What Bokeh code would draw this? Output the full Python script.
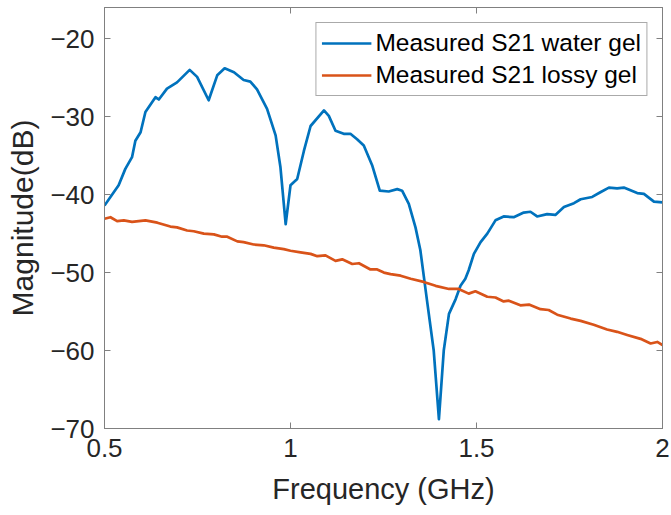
from bokeh.plotting import figure
from bokeh.models import LinearAxis, FixedTicker, Range1d, Legend, LegendItem
from bokeh.embed import file_html
from bokeh.resources import INLINE

# ---- data ----
freq_water = [0.500, 0.516, 0.538, 0.556, 0.574, 0.583, 0.597, 0.610, 0.637, 0.646,
              0.668, 0.695, 0.729, 0.749, 0.780, 0.803, 0.823, 0.848, 0.874, 0.892,
              0.910, 0.937, 0.960, 0.973, 0.987, 1.000, 1.018, 1.036, 1.054, 1.090,
              1.103, 1.121, 1.143, 1.161, 1.179, 1.197, 1.220, 1.240, 1.264, 1.287,
              1.300, 1.318, 1.336, 1.349, 1.367, 1.385, 1.399, 1.412, 1.426, 1.444,
              1.457, 1.470, 1.479, 1.493, 1.511, 1.529, 1.551, 1.573, 1.600, 1.627,
              1.645, 1.663, 1.690, 1.712, 1.735, 1.762, 1.780, 1.811, 1.833, 1.856,
              1.878, 1.896, 1.932, 1.950, 1.977, 2.000]
mag_water = [-41.4, -40.3, -38.8, -36.7, -35.2, -33.1, -32.0, -29.4, -27.5, -27.8,
             -26.4, -25.6, -24.0, -24.9, -27.9, -24.7, -23.8, -24.3, -25.3, -25.5,
             -26.5, -29.0, -32.4, -36.5, -43.8, -38.8, -38.0, -34.4, -31.2, -29.2,
             -29.9, -31.8, -32.2, -32.2, -32.9, -33.7, -36.3, -39.5, -39.6, -39.3,
             -39.5, -41.2, -44.2, -47.1, -53.6, -60.0, -68.8, -60.0, -55.3, -53.4,
             -51.7, -50.8, -49.7, -47.6, -46.1, -45.0, -43.3, -42.8, -42.9, -42.3,
             -42.2, -42.8, -42.5, -42.6, -41.6, -41.1, -40.6, -40.3, -39.7, -39.1,
             -39.2, -39.1, -39.8, -39.9, -40.9, -41.0]

freq_lossy = [0.500, 0.516, 0.534, 0.552, 0.574, 0.610, 0.642, 0.677, 0.695, 0.722,
              0.740, 0.767, 0.794, 0.816, 0.830, 0.857, 0.874, 0.901, 0.928, 0.955,
              0.982, 1.000, 1.027, 1.054, 1.072, 1.094, 1.121, 1.139, 1.166, 1.184,
              1.215, 1.233, 1.251, 1.269, 1.296, 1.323, 1.358, 1.390, 1.426, 1.452,
              1.479, 1.497, 1.529, 1.551, 1.573, 1.587, 1.618, 1.641, 1.672, 1.694,
              1.717, 1.753, 1.780, 1.815, 1.851, 1.878, 1.905, 1.941, 1.968, 1.986,
              2.000]
mag_lossy = [-43.1, -42.9, -43.4, -43.3, -43.5, -43.3, -43.6, -44.1, -44.2, -44.6,
             -44.7, -45.0, -45.1, -45.4, -45.4, -46.0, -46.1, -46.4, -46.5, -46.8,
             -47.0, -47.2, -47.4, -47.6, -47.9, -47.8, -48.5, -48.3, -48.9, -48.8,
             -49.6, -49.6, -50.0, -50.2, -50.4, -50.8, -51.2, -51.7, -52.1, -52.1,
             -52.7, -52.4, -53.1, -53.2, -53.7, -53.6, -54.2, -54.1, -54.7, -54.8,
             -55.4, -55.9, -56.2, -56.7, -57.3, -57.6, -58.0, -58.5, -59.1, -58.9,
             -59.3]

x_ticks = [0.5, 1.0, 1.5, 2.0]
x_tick_labels = ["0.5", "1", "1.5", "2"]
y_ticks = [-70, -60, -50, -40, -30, -20]
y_tick_labels = ["\u221270", "\u221260", "\u221250", "\u221240", "\u221230", "\u221220"]

label_water = "Measured S21 water gel"
label_lossy = "Measured S21 lossy gel"
x_title = "Frequency (GHz)"
y_title = "Magnitude(dB)"

# ---- style ----
FONT = "Liberation Sans"
AXC = "#808080"
TXT = "#262626"

p = figure(width=671, height=515, output_backend="svg", toolbar_location=None,
           x_range=Range1d(0.5, 2.0), y_range=Range1d(-70, -16),
           min_border_left=104, min_border_right=9, min_border_top=7,
           min_border_bottom=87, background_fill_color="white",
           border_fill_color="white")
p.grid.visible = False
p.outline_line_color = AXC
p.outline_line_width = 1

def style_axis(ax, ticks, labels, show_labels=True):
    ax.ticker = FixedTicker(ticks=ticks)
    ax.minor_tick_line_color = None
    ax.major_tick_in = 6
    ax.major_tick_out = 0
    ax.major_tick_line_color = AXC
    ax.axis_line_color = AXC
    if show_labels:
        ax.major_label_overrides = {t: l for t, l in zip(ticks, labels)}
        ax.major_label_text_font = FONT
        ax.major_label_text_color = TXT
        ax.major_label_text_font_size = "26px"
    else:
        ax.major_label_text_color = None
        ax.major_label_text_font_size = "0px"
        ax.major_label_standoff = 0

style_axis(p.xaxis[0], x_ticks, x_tick_labels)
style_axis(p.yaxis[0], y_ticks, y_tick_labels)
p.xaxis[0].major_label_standoff = 10
p.yaxis[0].major_label_standoff = 10

p.xaxis[0].axis_label = x_title
p.xaxis[0].axis_label_text_font = FONT
p.xaxis[0].axis_label_text_font_size = "29px"
p.xaxis[0].axis_label_text_font_style = "normal"
p.xaxis[0].axis_label_text_color = TXT
p.xaxis[0].axis_label_standoff = 13

p.yaxis[0].axis_label = y_title
p.yaxis[0].axis_label_text_font = FONT
p.yaxis[0].axis_label_text_font_size = "30px"
p.yaxis[0].axis_label_text_font_style = "normal"
p.yaxis[0].axis_label_text_color = TXT
p.yaxis[0].axis_label_standoff = 8

top_ax = LinearAxis()
style_axis(top_ax, x_ticks, x_tick_labels, show_labels=False)
p.add_layout(top_ax, "above")
right_ax = LinearAxis()
style_axis(right_ax, y_ticks, y_tick_labels, show_labels=False)
p.add_layout(right_ax, "right")

r1 = p.line(freq_water, mag_water, line_color="#0072BD", line_width=2.7,
            line_join="round")
r2 = p.line(freq_lossy, mag_lossy, line_color="#D95319", line_width=2.7,
            line_join="round")

legend = Legend(items=[LegendItem(label=label_water, renderers=[r1]),
                       LegendItem(label=label_lossy, renderers=[r2])],
                location="top_right", margin=15, padding=5, spacing=2,
                glyph_width=50, glyph_height=30, label_height=30,
                label_standoff=4, label_text_font=FONT,
                label_text_font_size="24.5px", label_text_color="black",
                border_line_color="#555555", border_line_width=1,
                background_fill_color="white", background_fill_alpha=1.0)
p.add_layout(legend, "center")

open("out.html", "w").write(file_html(p, INLINE))
